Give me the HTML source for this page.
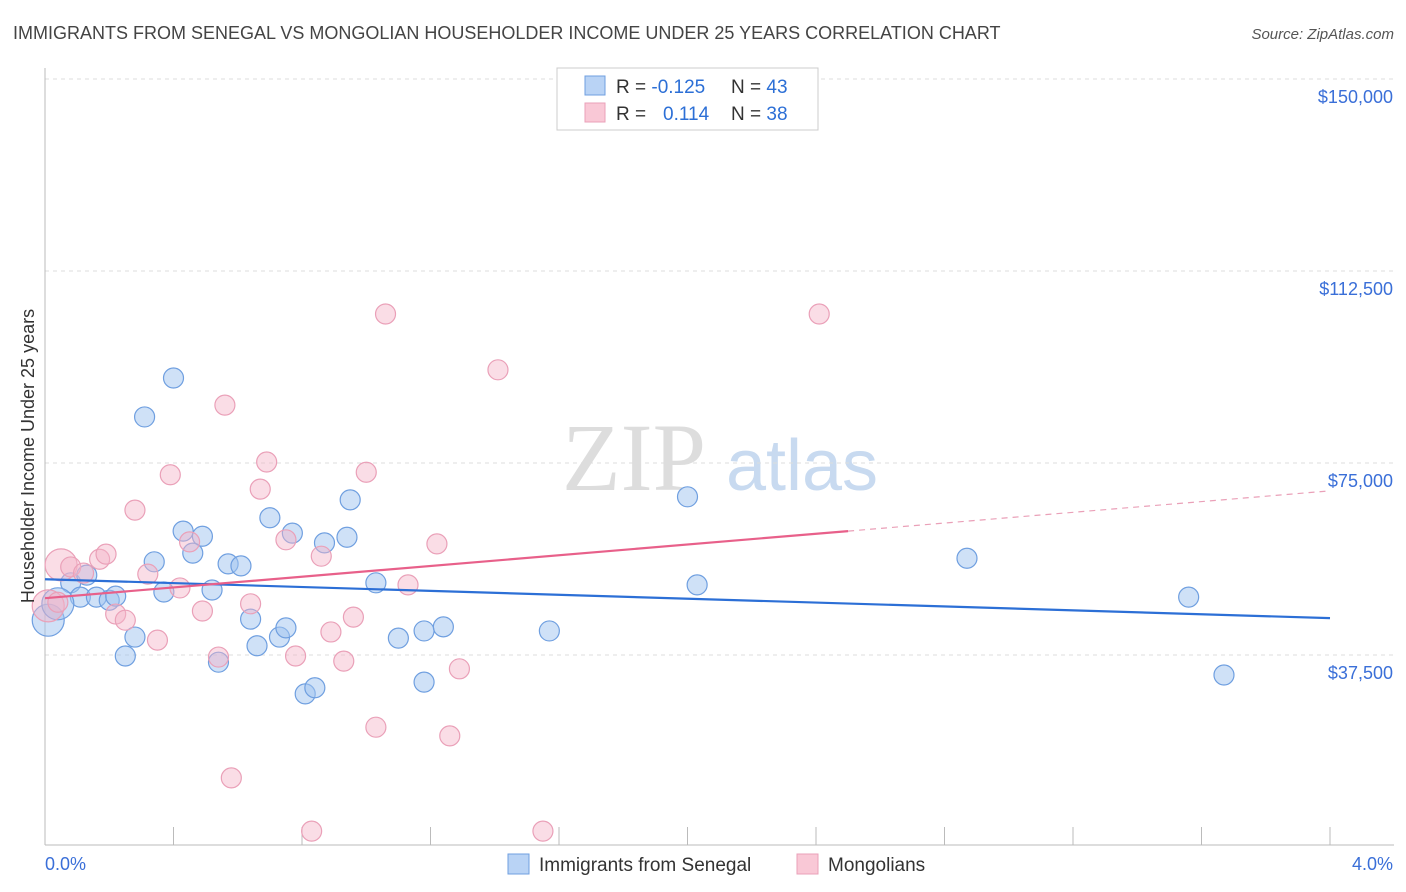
<!DOCTYPE html>
<html><head><meta charset="utf-8"><style>
body{margin:0;background:#fff;font-family:"Liberation Sans",sans-serif;}
svg{display:block}
</style></head><body>
<svg id="c" width="1406" height="892" font-family="Liberation Sans, sans-serif">
<text x="13" y="39" font-size="18" fill="#444">IMMIGRANTS FROM SENEGAL VS MONGOLIAN HOUSEHOLDER INCOME UNDER 25 YEARS CORRELATION CHART</text>
<text x="1394" y="39" font-size="15" fill="#555" font-style="italic" text-anchor="end">Source: ZipAtlas.com</text>
<g><text x="634" y="490" font-size="96" fill="#ddd" font-family="Liberation Serif, serif" text-anchor="middle">ZIP</text><text x="802" y="490" font-size="72" fill="#c8daf0" text-anchor="middle">atlas</text></g>
<g id="grid"></g><g id="axes"></g><g id="marks"></g>
<text transform="translate(34,456) rotate(-90)" font-size="18" fill="#333" text-anchor="middle">Householder Income Under 25 years</text>
<text x="45" y="870" font-size="18" fill="#3a6fd8">0.0%</text>
<text x="1393" y="870" font-size="18" fill="#3a6fd8" text-anchor="end">4.0%</text>
<g>
<rect x="557" y="68" width="261" height="62" fill="#fff" stroke="#ccc"/>
<rect x="585" y="76" width="20" height="19" fill="#b9d3f5" stroke="#6f9fe0"/>
<rect x="585" y="103" width="20" height="19" fill="#f9c8d6" stroke="#eaa0b8"/>
<text x="616" y="93" font-size="19" fill="#333">R = <tspan fill="#2c6fd6">-0.125</tspan><tspan x="731">N = </tspan><tspan fill="#2c6fd6">43</tspan></text>
<text x="616" y="120" font-size="19" fill="#333">R = <tspan x="663" fill="#2c6fd6">0.114</tspan><tspan x="731">N = </tspan><tspan fill="#2c6fd6">38</tspan></text>
</g>
<g>
<rect x="508" y="854" width="21" height="20" fill="#b9d3f5" stroke="#6f9fe0"/>
<text x="539" y="871" font-size="19" fill="#333">Immigrants from Senegal</text>
<rect x="797" y="854" width="21" height="20" fill="#f9c8d6" stroke="#eaa0b8"/>
<text x="828" y="871" font-size="19" fill="#333">Mongolians</text>
</g>
</svg>
<script>
const yTicks=[37500,75000,112500,150000];
const yTickLabels=["$37,500","$75,000","$112,500","$150,000"];
const xTicks=[0,0.4,0.8,1.2,1.6,2.0,2.4,2.8,3.2,3.6,4.0];
const blueX=[0.40,0.31,0.43,0.49,0.34,0.46,0.08,0.13,0.11,0.16,0.20,0.22,0.37,0.52,0.57,0.61,0.70,0.77,0.87,0.95,0.94,1.03,0.28,0.25,0.54,0.64,0.66,0.73,0.75,0.81,0.84,1.10,1.18,1.24,1.18,1.57,2.00,2.03,2.87,3.56,3.67,0.01,0.04];
const blueY=[91600,84000,61700,60700,55700,57400,51600,53100,48800,48800,48200,49000,49800,50200,55300,54900,64300,61300,59400,67800,60500,51600,41000,37300,36100,44500,39300,41000,42800,29900,31100,40800,42200,43000,32200,42200,68400,51200,56400,48800,33600,44300,47500];
const blueBig=[41,42];
const pinkX=[0.05,0.08,0.12,0.17,0.19,0.01,0.04,0.28,0.32,0.39,0.45,0.42,0.49,0.22,0.25,0.35,0.56,0.69,0.67,0.75,0.86,1.00,1.06,1.41,1.22,1.13,0.64,0.89,0.93,0.96,0.54,0.78,1.29,1.03,1.26,0.58,0.83,1.55,2.41];
const pinkY=[55100,54700,53500,56200,57200,47100,47800,65800,53300,72700,59600,50600,46100,45500,44300,40400,86300,75200,69900,60000,56800,73200,104100,93200,59200,51200,47500,42000,36300,44900,37100,37300,34800,23400,21700,13500,3100,3100,104100];
const pinkBig=[0,5];
const blueTrend=[52300,44700];
const pinkTrend=[48600,69560];
const pinkSolidEnd=2.5;
const NS="http://www.w3.org/2000/svg";
const X0=45,X1=1330,Y0=847,PX=192/37500;
const xs=v=>X0+(X1-X0)*v/4, ys=v=>Y0-v*PX;
function mk(p,t,a){const e=document.createElementNS(NS,t);for(const k in a)e.setAttribute(k,a[k]);p.appendChild(e);return e;}
const grid=document.getElementById('grid'),axes=document.getElementById('axes'),marks=document.getElementById('marks');
yTicks.forEach((t,i)=>{
 const l=mk(grid,'line',{x1:X0,x2:1394,y1:ys(t),y2:ys(t),stroke:'#ddd','stroke-dasharray':'4,4'});
 
 
 const tx=mk(grid,'text',{x:1393,y:ys(t)+24,'font-size':18,fill:'#3a6fd8','text-anchor':'end'});
 tx.textContent=yTickLabels[i];
 
 
});
const ya=mk(axes,'line',{x1:X0,x2:X0,y1:68,y2:845,stroke:'#bbb'});


const xa=mk(axes,'line',{x1:X0,x2:1394,y1:845,y2:845,stroke:'#bbb'});


xTicks.forEach(t=>{const l=mk(axes,'line',{x1:xs(t),x2:xs(t),y1:827,y2:845,stroke:'#bbb'});
 
 });
function pts(X,Y,big,fill,stroke,name){X.forEach((x,i)=>{
 const c=mk(marks,'circle',{cx:xs(x),cy:ys(Y[i]),r:big.includes(i)?16:10,fill:fill,stroke:stroke,'stroke-width':1.2});
 
 });}
pts(blueX,blueY,blueBig,'rgba(160,196,240,0.5)','#6f9fe0','senegal-point');
pts(pinkX,pinkY,pinkBig,'rgba(245,180,200,0.45)','#eaa0b8','mongolian-point');
const bl=mk(marks,'line',{x1:xs(0),y1:ys(blueTrend[0]),x2:xs(4),y2:ys(blueTrend[1]),stroke:'#2c6fd6','stroke-width':2.2});


const pm=pinkTrend[0]+(pinkTrend[1]-pinkTrend[0])*pinkSolidEnd/4;
const pl=mk(marks,'line',{x1:xs(0),y1:ys(pinkTrend[0]),x2:xs(pinkSolidEnd),y2:ys(pm),stroke:'#e8608a','stroke-width':2.2});


const pd=mk(marks,'line',{x1:xs(pinkSolidEnd),y1:ys(pm),x2:xs(4),y2:ys(pinkTrend[1]),stroke:'#eaa0b8','stroke-width':1.2,'stroke-dasharray':'6,5'});


</script>
</body></html>
